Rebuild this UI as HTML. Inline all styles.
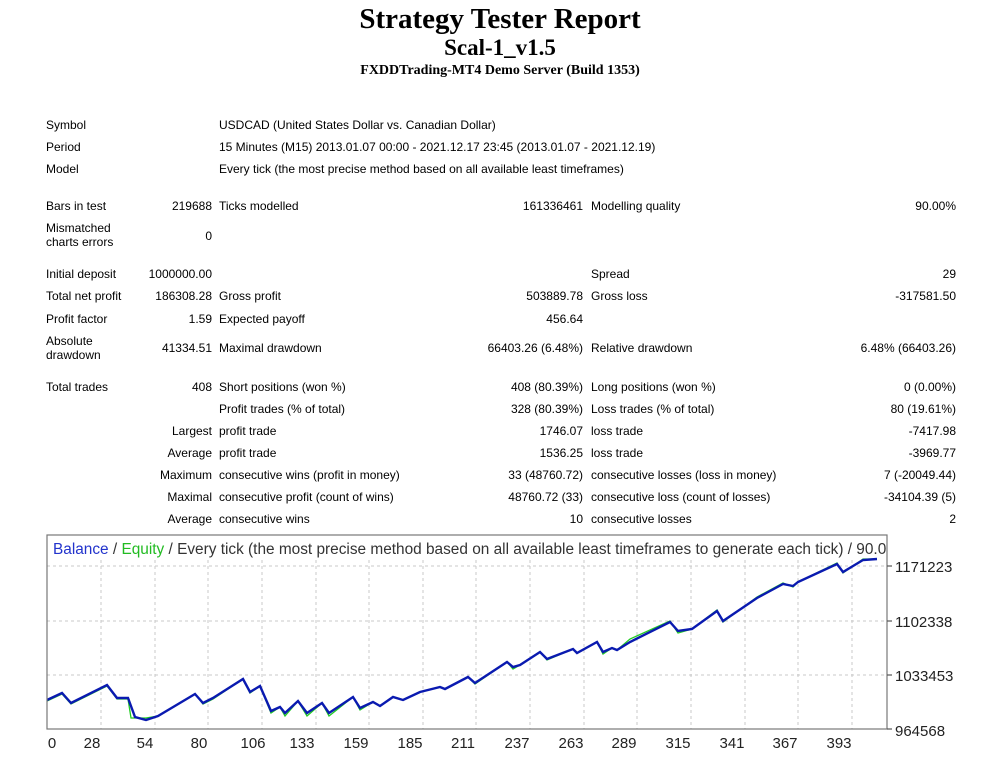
<!DOCTYPE html>
<html><head><meta charset="utf-8"><style>
body{margin:0;width:1000px;height:761px;background:#fff;position:relative;overflow:hidden;font-family:"Liberation Sans",sans-serif;color:#000}
.t{position:absolute;white-space:nowrap;font-size:12px;line-height:14px}
.r{text-align:right}
.h{position:absolute;left:0;width:1000px;text-align:center;font-family:"Liberation Serif",serif;font-weight:bold;white-space:nowrap}
</style></head><body>
<div class="h" style="top:2px;font-size:29px;line-height:34px">Strategy Tester Report</div>
<div class="h" style="top:34px;font-size:23px;line-height:27px">Scal-1_v1.5</div>
<div class="h" style="top:62px;font-size:14px;line-height:17px">FXDDTrading-MT4 Demo Server (Build 1353)</div>

<div class="t" style="left:46px;top:118px">Symbol</div>
<div class="t" style="left:219px;top:118px">USDCAD (United States Dollar vs. Canadian Dollar)</div>
<div class="t" style="left:46px;top:140px">Period</div>
<div class="t" style="left:219px;top:140px">15 Minutes (M15) 2013.01.07 00:00 - 2021.12.17 23:45 (2013.01.07 - 2021.12.19)</div>
<div class="t" style="left:46px;top:162px">Model</div>
<div class="t" style="left:219px;top:162px">Every tick (the most precise method based on all available least timeframes)</div>

<div class="t" style="left:46px;top:199px">Bars in test</div>
<div class="t r" style="right:788px;top:199px">219688</div>
<div class="t" style="left:219px;top:199px">Ticks modelled</div>
<div class="t r" style="right:417px;top:199px">161336461</div>
<div class="t" style="left:591px;top:199px">Modelling quality</div>
<div class="t r" style="right:44px;top:199px">90.00%</div>

<div class="t" style="left:46px;top:221px">Mismatched<br>charts errors</div>
<div class="t r" style="right:788px;top:229px">0</div>

<div class="t" style="left:46px;top:267px">Initial deposit</div>
<div class="t r" style="right:788px;top:267px">1000000.00</div>
<div class="t" style="left:591px;top:267px">Spread</div>
<div class="t r" style="right:44px;top:267px">29</div>

<div class="t" style="left:46px;top:289px">Total net profit</div>
<div class="t r" style="right:788px;top:289px">186308.28</div>
<div class="t" style="left:219px;top:289px">Gross profit</div>
<div class="t r" style="right:417px;top:289px">503889.78</div>
<div class="t" style="left:591px;top:289px">Gross loss</div>
<div class="t r" style="right:44px;top:289px">-317581.50</div>

<div class="t" style="left:46px;top:312px">Profit factor</div>
<div class="t r" style="right:788px;top:312px">1.59</div>
<div class="t" style="left:219px;top:312px">Expected payoff</div>
<div class="t r" style="right:417px;top:312px">456.64</div>

<div class="t" style="left:46px;top:334px">Absolute<br>drawdown</div>
<div class="t r" style="right:788px;top:341px">41334.51</div>
<div class="t" style="left:219px;top:341px">Maximal drawdown</div>
<div class="t r" style="right:417px;top:341px">66403.26 (6.48%)</div>
<div class="t" style="left:591px;top:341px">Relative drawdown</div>
<div class="t r" style="right:44px;top:341px">6.48% (66403.26)</div>

<div class="t" style="left:46px;top:380px">Total trades</div>
<div class="t r" style="right:788px;top:380px">408</div>
<div class="t" style="left:219px;top:380px">Short positions (won %)</div>
<div class="t r" style="right:417px;top:380px">408 (80.39%)</div>
<div class="t" style="left:591px;top:380px">Long positions (won %)</div>
<div class="t r" style="right:44px;top:380px">0 (0.00%)</div>

<div class="t" style="left:219px;top:402px">Profit trades (% of total)</div>
<div class="t r" style="right:417px;top:402px">328 (80.39%)</div>
<div class="t" style="left:591px;top:402px">Loss trades (% of total)</div>
<div class="t r" style="right:44px;top:402px">80 (19.61%)</div>

<div class="t r" style="right:788px;top:424px">Largest</div>
<div class="t" style="left:219px;top:424px">profit trade</div>
<div class="t r" style="right:417px;top:424px">1746.07</div>
<div class="t" style="left:591px;top:424px">loss trade</div>
<div class="t r" style="right:44px;top:424px">-7417.98</div>

<div class="t r" style="right:788px;top:446px">Average</div>
<div class="t" style="left:219px;top:446px">profit trade</div>
<div class="t r" style="right:417px;top:446px">1536.25</div>
<div class="t" style="left:591px;top:446px">loss trade</div>
<div class="t r" style="right:44px;top:446px">-3969.77</div>

<div class="t r" style="right:788px;top:468px">Maximum</div>
<div class="t" style="left:219px;top:468px">consecutive wins (profit in money)</div>
<div class="t r" style="right:417px;top:468px">33 (48760.72)</div>
<div class="t" style="left:591px;top:468px">consecutive losses (loss in money)</div>
<div class="t r" style="right:44px;top:468px">7 (-20049.44)</div>

<div class="t r" style="right:788px;top:490px">Maximal</div>
<div class="t" style="left:219px;top:490px">consecutive profit (count of wins)</div>
<div class="t r" style="right:417px;top:490px">48760.72 (33)</div>
<div class="t" style="left:591px;top:490px">consecutive loss (count of losses)</div>
<div class="t r" style="right:44px;top:490px">-34104.39 (5)</div>

<div class="t r" style="right:788px;top:512px">Average</div>
<div class="t" style="left:219px;top:512px">consecutive wins</div>
<div class="t r" style="right:417px;top:512px">10</div>
<div class="t" style="left:591px;top:512px">consecutive losses</div>
<div class="t r" style="right:44px;top:512px">2</div>

<svg style="position:absolute;left:0;top:0" width="1000" height="761" font-family="Liberation Sans, sans-serif">
<g stroke="#c8c8c8" stroke-dasharray="3,3" stroke-width="1">
<line x1="47" y1="566" x2="887" y2="566"/><line x1="47" y1="621" x2="887" y2="621"/><line x1="47" y1="675" x2="887" y2="675"/>
<line x1="101" y1="560" x2="101" y2="729"/><line x1="155" y1="560" x2="155" y2="729"/><line x1="208" y1="560" x2="208" y2="729"/><line x1="262" y1="560" x2="262" y2="729"/><line x1="316" y1="560" x2="316" y2="729"/><line x1="369" y1="560" x2="369" y2="729"/><line x1="423" y1="560" x2="423" y2="729"/><line x1="476" y1="560" x2="476" y2="729"/><line x1="530" y1="560" x2="530" y2="729"/><line x1="584" y1="560" x2="584" y2="729"/><line x1="637" y1="560" x2="637" y2="729"/><line x1="691" y1="560" x2="691" y2="729"/><line x1="745" y1="560" x2="745" y2="729"/><line x1="798" y1="560" x2="798" y2="729"/><line x1="852" y1="560" x2="852" y2="729"/>
</g>
<polyline fill="none" stroke="#22cc22" stroke-width="1.3" points="47,701 62,694 71,704 107,686 117,699 128,699 131,718 146,718 158,716 195,694 203,704 213,699 243,679 250,693 260,686 271,713 280,707 285,716 298,701 307,716 322,703 329,716 353,697 360,710 373,702 380,706 393,697 403,700 420,692 440,687 445,689 468,677 475,684 507,662 513,669 520,665 540,652 547,660 573,649 577,653 597,642 603,654 612,648 617,650 630,639 670,621 678,633 692,629 717,610 723,622 757,597 783,583 793,587 798,582 837,563 843,573 863,559 877,559"/>
<polyline fill="none" stroke="#0a1ab0" stroke-width="2.4" points="47,700 62,693 71,703 107,685 117,698 128,698 135,717 146,720 158,716 195,694 203,703 213,698 243,679 250,692 260,686 271,711 280,707 285,713 298,701 307,713 322,703 329,713 353,697 360,708 373,702 380,706 393,697 403,700 420,692 440,687 445,689 468,677 475,683 507,662 513,667 520,665 540,652 547,659 573,649 577,653 597,642 603,652 612,648 617,650 630,642 670,622 678,631 692,629 717,611 723,621 757,598 783,584 793,586 798,582 837,564 843,572 863,560 877,559"/>
<text x="53" y="554" font-size="15.4" fill="#2233cc">Balance <tspan fill="#333">/</tspan> <tspan fill="#22bb22">Equity</tspan> <tspan fill="#333">/ Every tick (the most precise method based on all available least timeframes to generate each tick) / 90.0(</tspan></text>
<rect x="887" y="530" width="113" height="30" fill="#fff"/>
<rect x="47" y="535" width="840" height="194" fill="none" stroke="#777" stroke-width="1.2"/>
<g stroke="#555" stroke-width="1.2">
<line x1="887" y1="566" x2="892" y2="566"/><line x1="887" y1="621" x2="892" y2="621"/><line x1="887" y1="675" x2="892" y2="675"/><line x1="887" y1="729" x2="892" y2="729"/>
</g>
<g font-size="15" fill="#222">
<text x="895" y="572">1171223</text><text x="895" y="627">1102338</text><text x="895" y="681">1033453</text><text x="895" y="736">964568</text>
</g>
<g font-size="15" fill="#222" text-anchor="middle">
<text x="52" y="748">0</text><text x="92" y="748">28</text><text x="145" y="748">54</text><text x="199" y="748">80</text><text x="253" y="748">106</text><text x="302" y="748">133</text><text x="356" y="748">159</text><text x="410" y="748">185</text><text x="463" y="748">211</text><text x="517" y="748">237</text><text x="571" y="748">263</text><text x="624" y="748">289</text><text x="678" y="748">315</text><text x="732" y="748">341</text><text x="785" y="748">367</text><text x="839" y="748">393</text>
</g>
</svg>
</body></html>
